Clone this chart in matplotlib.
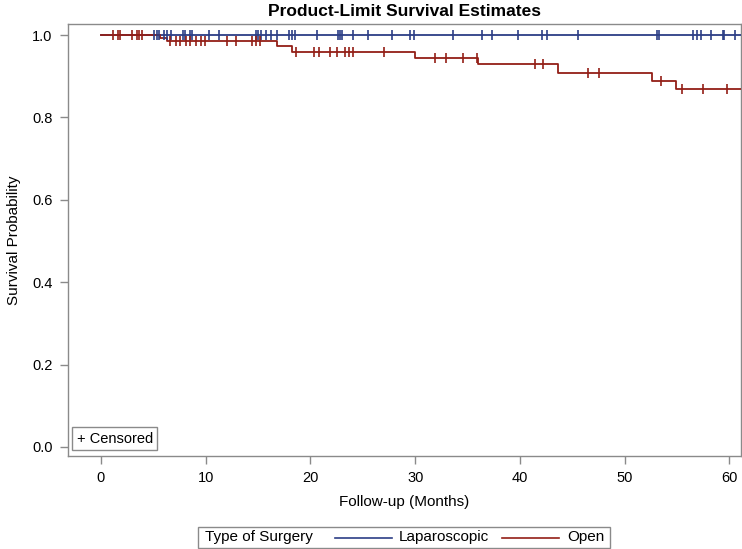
import matplotlib
matplotlib.use("Agg")
import matplotlib.pyplot as plt
from matplotlib.lines import Line2D
from matplotlib.patches import Rectangle

plt.rcParams['font.family'] = ['Liberation Sans', 'DejaVu Sans']

# ---- data ----
lap_step_times = [0.0, 61.5]
lap_step_surv = [1.0, 1.0]
lap_censor_times = [5.06, 5.34, 5.53, 6.01, 6.30, 6.68, 7.82, 8.02, 8.49, 8.68, 10.3, 11.26,
                    14.79, 14.98, 15.27, 15.74, 16.22, 16.79, 17.94, 18.2, 18.5, 20.6, 22.6,
                    22.8, 23.0, 24.1, 25.5, 27.8, 29.5, 29.9, 33.6, 36.4, 37.3, 39.8, 42.1,
                    42.6, 45.5, 53.1, 53.3, 56.5, 56.9, 57.3, 58.2, 59.4, 59.5, 60.5]

open_step_times = [0.0, 5.6, 6.3, 16.8, 18.2, 30.0, 36.0, 43.6, 52.6, 54.9]
open_step_surv = [1.0, 0.993, 0.986, 0.973, 0.959, 0.945, 0.930, 0.9085, 0.889, 0.869]
open_end_time = 61.5
open_censor_times = [1.1, 1.6, 1.8, 3.0, 3.4, 3.6, 3.9,
                     6.6, 7.2, 7.5, 8.1, 8.5, 9.1, 9.5, 9.9, 12.0, 12.9, 14.4, 14.8, 15.2,
                     18.6, 20.3, 20.8, 21.9, 22.5, 23.3, 23.7, 24.1, 27.0,
                     31.9, 32.9, 34.6, 35.9, 41.4, 42.2, 46.5, 47.5, 53.5, 55.5, 57.5, 59.8]

x_ticks = [0, 10, 20, 30, 40, 50, 60]
y_ticks = [0.0, 0.2, 0.4, 0.6, 0.8, 1.0]
title = "Product-Limit Survival Estimates"
x_label = "Follow-up (Months)"
y_label = "Survival Probability"
legend_title = "Type of Surgery"
group_names = ["Laparoscopic", "Open"]
colors = ["#2C3E86", "#931F17"]

W, H = 742, 549


def surv_at(t, times, surv):
    s = surv[0]
    for ti, si in zip(times, surv):
        if t >= ti:
            s = si
    return s


def fx(px):
    return px / W


def fy(py):
    return 1 - py / H


fig = plt.figure(figsize=(W / 100, H / 100), dpi=100)
ax = fig.add_axes([fx(68), fy(456), (741 - 68) / W, (456 - 24) / H])

# Laparoscopic
ax.step(lap_step_times, lap_step_surv, where='post', color=colors[0], lw=1.3, zorder=3)
ax.plot(lap_censor_times, [surv_at(t, lap_step_times, lap_step_surv) for t in lap_censor_times],
        linestyle='none', marker='|', markersize=6.5, mew=1.2, color=colors[0], zorder=4)

# Open
ot = open_step_times + [open_end_time]
os_ = open_step_surv + [open_step_surv[-1]]
ax.step(ot, os_, where='post', color=colors[1], lw=1.3, zorder=3)
ax.plot(open_censor_times, [surv_at(t, open_step_times, open_step_surv) for t in open_censor_times],
        linestyle='none', marker='|', markersize=6.5, mew=1.2, color=colors[1], zorder=4)

ax.set_xlim(-3.15, 61.1)
ax.set_ylim(-0.022, 1.027)
ax.set_xticks(x_ticks)
ax.set_xticklabels([str(v) for v in x_ticks])
ax.set_yticks(y_ticks)
ax.set_yticklabels([f"{v:.1f}" for v in y_ticks])
for sp in ax.spines.values():
    sp.set_color('#8a8a8a')
    sp.set_linewidth(1.0)
ax.tick_params(axis='both', colors='#8a8a8a', labelcolor='black', length=6, width=1,
               labelsize=10.5, pad=5)

ax.set_title(title, fontsize=12.5, fontweight='bold', pad=6)
ax.set_xlabel(x_label, fontsize=11, labelpad=7)
ax.set_ylabel(y_label, fontsize=11, labelpad=8)

# Censored box inside axes
ax.text(0.013, 0.024, "+ Censored", transform=ax.transAxes, fontsize=10.5,
        ha='left', va='bottom',
        bbox=dict(boxstyle='square,pad=0.3', fc='white', ec='#8a8a8a', lw=1.0))

# Bottom legend (drawn manually in figure pixel layout)
yc = fy(537.5)
fig.patches.append(Rectangle((fx(198), fy(548)), (610 - 198) / W, 21 / H,
                             transform=fig.transFigure, fill=False,
                             ec='#8a8a8a', lw=1.0))
fig.text(fx(205), yc, legend_title, fontsize=11, ha='left', va='center')
fig.add_artist(Line2D([fx(335), fx(392)], [yc, yc], color=colors[0], lw=1.2,
                      transform=fig.transFigure))
fig.text(fx(399), yc, group_names[0], fontsize=11, ha='left', va='center')
fig.add_artist(Line2D([fx(502), fx(559)], [yc, yc], color=colors[1], lw=1.2,
                      transform=fig.transFigure))
fig.text(fx(567), yc, group_names[1], fontsize=11, ha='left', va='center')

fig.savefig("out.png", dpi=100)
